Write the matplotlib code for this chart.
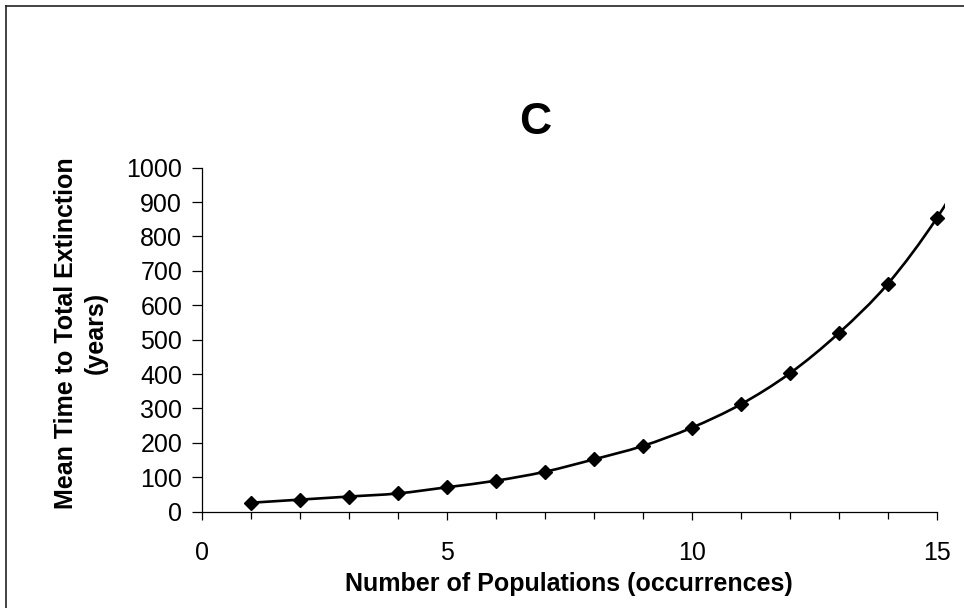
import numpy as np
import matplotlib
matplotlib.use('Agg')
import matplotlib.pyplot as plt
from matplotlib.path import Path
from matplotlib.patches import PathPatch, Rectangle
from matplotlib.lines import Line2D
from matplotlib.ticker import MultipleLocator

matplotlib.rcParams['font.family'] = ['Liberation Sans', 'DejaVu Sans']

# 数据 (x=16 only shows as the clipped tail of the smoothed line)
populations = [1, 2, 3, 4, 5, 6, 7, 8, 9, 10, 11, 12, 13, 14, 15, 16]
mean_time = [26, 35, 44, 53, 71, 90, 116, 152, 191, 244, 312, 402, 519, 662, 853, 1090]
x_ticks = [0, 5, 10, 15]
y_ticks = list(range(0, 1001, 100))


def smooth_path(xs, ys):
    # Excel-like smoothed line: cubic bezier through every point
    pts = np.column_stack([xs, ys]).astype(float)
    n = len(pts)
    verts = [pts[0]]
    codes = [Path.MOVETO]
    for i in range(n - 1):
        p0 = pts[i - 1] if i > 0 else pts[i]
        p1 = pts[i]
        p2 = pts[i + 1]
        p3 = pts[i + 2] if i + 2 < n else pts[i + 1]
        c1 = p1 + (p2 - p0) / 6.0
        c2 = p2 - (p3 - p1) / 6.0
        verts += [c1, c2, p2]
        codes += [Path.CURVE4] * 3
    return Path(verts, codes)


fig = plt.figure(figsize=(9.64, 6.08), dpi=100)
ax = fig.add_axes([0.2092, 0.1584, 0.9717 - 0.2092, 0.7242 - 0.1584])

ax.set_xlim(0, 15)
ax.set_ylim(0, 1000)

line = PathPatch(smooth_path(populations, mean_time), facecolor='none',
                 edgecolor='black', linewidth=1.9)
ax.add_patch(line)
# the line runs a few pixels past the plot area like in the original
line.set_clip_path(Rectangle((0, -50), 15.17, 1100, transform=ax.transData))

xm = [x for x in populations if x <= 15]
ym = mean_time[:len(xm)]
ax.plot(xm, ym, linestyle='none', marker='D', markersize=7.2,
        color='black', clip_on=False, zorder=5)

for s in ['top', 'right']:
    ax.spines[s].set_visible(False)
for s in ['left', 'bottom']:
    ax.spines[s].set_linewidth(0.9)

ax.set_xticks(x_ticks)
ax.xaxis.set_minor_locator(MultipleLocator(1))
ax.set_yticks(y_ticks)
ax.tick_params(axis='x', which='major', direction='out', length=6, width=0.9,
               labelsize=18, pad=15)
ax.tick_params(axis='x', which='minor', direction='out', length=5, width=0.9)
ax.tick_params(axis='y', direction='out', length=7, width=0.9, labelsize=18, pad=7)

ax.set_xlabel('Number of Populations (occurrences)', fontsize=18,
              fontweight='bold', labelpad=5)
ax.set_ylabel('Mean Time to Total Extinction\n(years)', fontsize=18,
              fontweight='bold', linespacing=1.3)
ax.yaxis.set_label_coords(-0.128, 0.52)

fig.text(535 / 964, 1 - 122 / 608, 'C', fontsize=32, fontweight='bold',
         ha='center', va='center')

# outer chart frame (only top and left visible)
fig.add_artist(Line2D([5.5 / 964, 1], [1 - 5.5 / 608] * 2, color='#222222',
                      linewidth=1.2, transform=fig.transFigure))
fig.add_artist(Line2D([5.5 / 964] * 2, [0, 1 - 5.5 / 608], color='#222222',
                      linewidth=1.2, transform=fig.transFigure))

plt.savefig('out.png', dpi=100)
